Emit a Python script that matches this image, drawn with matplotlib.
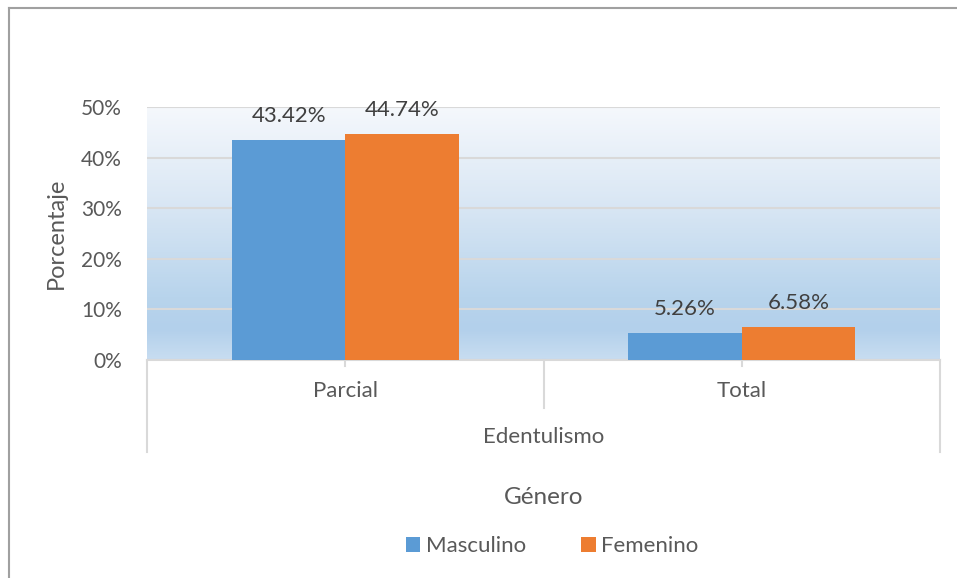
import numpy as np
import matplotlib.pyplot as plt
from matplotlib.colors import LinearSegmentedColormap
import matplotlib.transforms as mtransforms

# data
categorias = ["Parcial", "Total"]
grupo = "Edentulismo"
masculino = [43.42, 5.26]
femenino = [44.74, 6.58]
yticks = [0, 10, 20, 30, 40, 50]

azul = "#5B9BD5"
naranja = "#ED7D31"
gris_txt = "#595959"
gris_lin = "#D9D9D9"

plt.rcParams['font.family'] = ['Lato', 'DejaVu Sans']

fig = plt.figure(figsize=(9.57, 5.78), dpi=100)
ax = fig.add_axes([147/957, 1-360/578, (940-147)/957, (360-107)/578])

# gradient background of plot area (bottom -> top)
cmap = LinearSegmentedColormap.from_list("grad", [
    (0.0, "#C8DDF1"), (0.12, "#B3D0EB"), (0.25, "#B8D4EC"),
    (0.6, "#D8E6F4"), (1.0, "#F5F8FC")])
grad = np.linspace(0, 1, 256).reshape(-1, 1)
ax.imshow(grad, cmap=cmap, origin="lower", aspect="auto",
          extent=[-0.5, 1.5, 0, 50], zorder=0)

x = np.arange(len(categorias))
w = 0.2857
b1 = ax.bar(x - w/2, masculino, w, color=azul, label="Masculino", zorder=3)
b2 = ax.bar(x + w/2, femenino, w, color=naranja, label="Femenino", zorder=3)

for bars, vals in ((b1, masculino), (b2, femenino)):
    for r, v in zip(bars, vals):
        ax.annotate(f"{v:.2f}%", (r.get_x() + r.get_width()/2, v),
                    xytext=(0, 10), textcoords="offset points",
                    ha="center", va="bottom", fontsize=16, color="#404040")

ax.set_xlim(-0.5, 1.5)
ax.set_ylim(0, 50)
ax.set_yticks(yticks)
ax.set_yticklabels([f"{t}%" for t in yticks])
ax.grid(axis="y", color=gris_lin, linewidth=1.5, zorder=1)
ax.set_axisbelow(True)
for s in ["top", "right", "left"]:
    ax.spines[s].set_visible(False)
ax.spines["bottom"].set_color(gris_lin)
ax.spines["bottom"].set_linewidth(1.5)
ax.tick_params(axis="y", length=0, labelsize=15, labelcolor=gris_txt, pad=18)
ax.set_xticks([])
ax.set_ylabel("Porcentaje", fontsize=17, color=gris_txt, labelpad=10)

# multi-level category axis
trans = mtransforms.blended_transform_factory(ax.transData, fig.transFigure)
def fy(py):
    return 1 - py/578
for xc in [-0.5, 1.5]:
    ax.plot([xc, xc], [fy(360), fy(452)], transform=trans, color=gris_lin,
            lw=1.5, clip_on=False)
ax.plot([0.5, 0.5], [fy(360), fy(408)], transform=trans, color=gris_lin,
        lw=1.5, clip_on=False)
for xc in x:
    ax.plot([xc, xc], [fy(360), fy(366)], transform=trans, color=gris_lin,
            lw=1.5, clip_on=False)
    ax.text(xc, fy(391), categorias[xc], transform=trans, ha="center",
            va="center", fontsize=16, color=gris_txt)
ax.text(0.5, fy(437), grupo, transform=trans, ha="center", va="center",
        fontsize=16, color=gris_txt)
fig.text(0.5 * (147 + 940) / 957, fy(497), "Género", ha="center", va="center",
         fontsize=17.5, color=gris_txt)

fig.legend(handles=[b1, b2], loc="center", bbox_to_anchor=(552/957, fy(546)),
           ncol=2, frameon=False, fontsize=16, handlelength=0.65,
           handleheight=0.65, handletextpad=0.25, columnspacing=2.5,
           labelcolor=gris_txt)

# outer frame lines (top and left)
fig.add_artist(plt.Line2D([9/957, 1], [fy(8), fy(8)], color="#A0A0A0", lw=1.5))
fig.add_artist(plt.Line2D([9/957, 9/957], [0, fy(8)], color="#A0A0A0", lw=1.5))

fig.savefig("out.png", dpi=100)
